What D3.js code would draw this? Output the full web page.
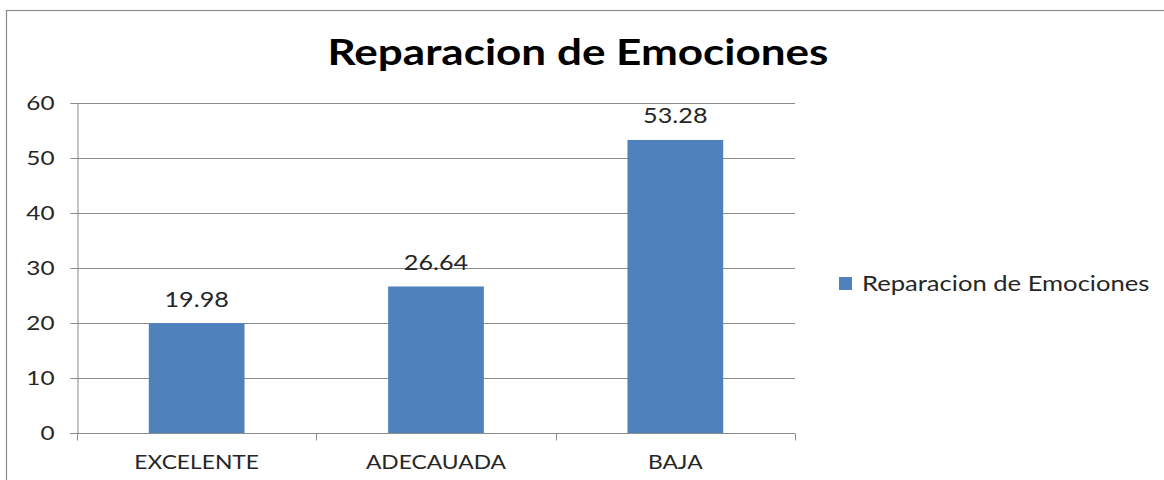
<!DOCTYPE html>
<html>
<head>
<meta charset="utf-8">
<script src="https://cdn.jsdelivr.net/npm/d3@7"></script>
<style>
  body { margin: 0; background: #fff; }
  text { font-family: Lato, "Open Sans", sans-serif; }
</style>
</head>
<body>
<div id="chart"></div>
<script>
// Chart data
const categories = ["EXCELENTE", "ADECAUADA", "BAJA"];
const values = [19.98, 26.64, 53.28];
const yTicks = [0, 10, 20, 30, 40, 50, 60];
const seriesName = "Reparacion de Emociones";
const chartTitle = "Reparacion de Emociones";

const width = 1164, height = 480;
const margin = { top: 103, right: 369, bottom: 47, left: 77 };
const plotW = width - margin.left - margin.right;
const plotH = height - margin.top - margin.bottom;
const stretch = 1.2; // reference font is wider than Lato

const svg = d3.select("#chart").append("svg")
    .attr("width", width)
    .attr("height", height);

// widen text horizontally to mimic the original font
function widen(sel, k) {
    sel.each(function() {
        const len = this.getComputedTextLength();
        d3.select(this)
            .attr("textLength", len * (k || stretch))
            .attr("lengthAdjust", "spacingAndGlyphs");
    });
}

// Outer chart frame
svg.append("rect")
    .attr("x", 6.5).attr("y", 10.5)
    .attr("width", 1200).attr("height", 500)
    .attr("fill", "#fff")
    .attr("stroke", "#8c8c8c")
    .attr("stroke-width", 1.2);

svg.append("text")
    .attr("x", 578).attr("y", 65)
    .attr("text-anchor", "middle")
    .attr("font-size", 35.5)
    .attr("font-weight", "bold")
    .attr("fill", "#000")
    .text(chartTitle)
    .call(widen, 1.24);

const g = svg.append("g").attr("transform", `translate(${margin.left},${margin.top})`);

const x = d3.scaleBand().domain(categories).range([0, plotW]).paddingInner(0.6).paddingOuter(0.3);
const xOuter = d3.scaleBand().domain(categories).range([0, plotW]);
const y = d3.scaleLinear().domain([0, 60]).range([plotH, 0]);

// Gridlines
g.append("g")
    .selectAll("line")
    .data(yTicks.filter(d => d > 0))
    .join("line")
    .attr("x1", 0).attr("x2", plotW)
    .attr("y1", d => Math.round(y(d)) + 0.5).attr("y2", d => Math.round(y(d)) + 0.5)
    .attr("stroke", "#8a8a8a")
    .attr("stroke-width", 1);

// Y axis
const yAxis = g.append("g")
    .attr("transform", "translate(0.5,0)")
    .call(d3.axisLeft(y).tickValues(yTicks).tickSize(7).tickPadding(16));
yAxis.select(".domain").attr("stroke", "#8a8a8a");
yAxis.selectAll(".tick line").attr("stroke", "#8a8a8a");
yAxis.selectAll(".tick text")
    .attr("font-size", 19)
    .attr("fill", "#262626")
    .attr("font-family", "Lato, sans-serif")
    .call(widen, 1.28);

// Bars
g.selectAll("rect.bar")
    .data(values)
    .join("rect")
    .attr("class", "bar")
    .attr("x", (d, i) => x(categories[i]))
    .attr("y", d => y(d))
    .attr("width", x.bandwidth())
    .attr("height", d => plotH - y(d))
    .attr("fill", "#4f81bd");

// X axis
const xAxisG = g.append("g").attr("transform", `translate(0,${plotH + 0.5})`);
xAxisG.append("line")
    .attr("x1", -7).attr("x2", plotW)
    .attr("stroke", "#8a8a8a");
xAxisG.selectAll("line.tick")
    .data(categories.map((c, i) => i === 0 ? 0 : xOuter(c)).concat([plotW]))
    .join("line")
    .attr("class", "tick")
    .attr("x1", d => Math.round(d) + 0.5).attr("x2", d => Math.round(d) + 0.5)
    .attr("y1", 0).attr("y2", 7)
    .attr("stroke", "#8a8a8a");
xAxisG.selectAll("text")
    .data(categories)
    .join("text")
    .attr("x", d => x(d) + x.bandwidth() / 2)
    .attr("y", 35)
    .attr("text-anchor", "middle")
    .attr("font-size", 19.5)
    .attr("fill", "#262626")
    .text(d => d)
    .call(widen, 1.17);

// Value labels
g.selectAll("text.val")
    .data(values)
    .join("text")
    .attr("class", "val")
    .attr("x", (d, i) => x(categories[i]) + x.bandwidth() / 2)
    .attr("y", d => y(d) - 16.5)
    .attr("text-anchor", "middle")
    .attr("font-size", 21)
    .attr("fill", "#262626")
    .text(d => d.toFixed(2))
    .call(widen, 1.2);

// Legend
const legend = svg.append("g").attr("transform", "translate(839,277)");
legend.append("rect")
    .attr("width", 13).attr("height", 13)
    .attr("fill", "#4f81bd");
legend.append("text")
    .attr("x", 23).attr("y", 14)
    .attr("font-size", 21.5)
    .attr("fill", "#262626")
    .text(seriesName)
    .call(widen, 1.19);
</script>
</body>
</html>
